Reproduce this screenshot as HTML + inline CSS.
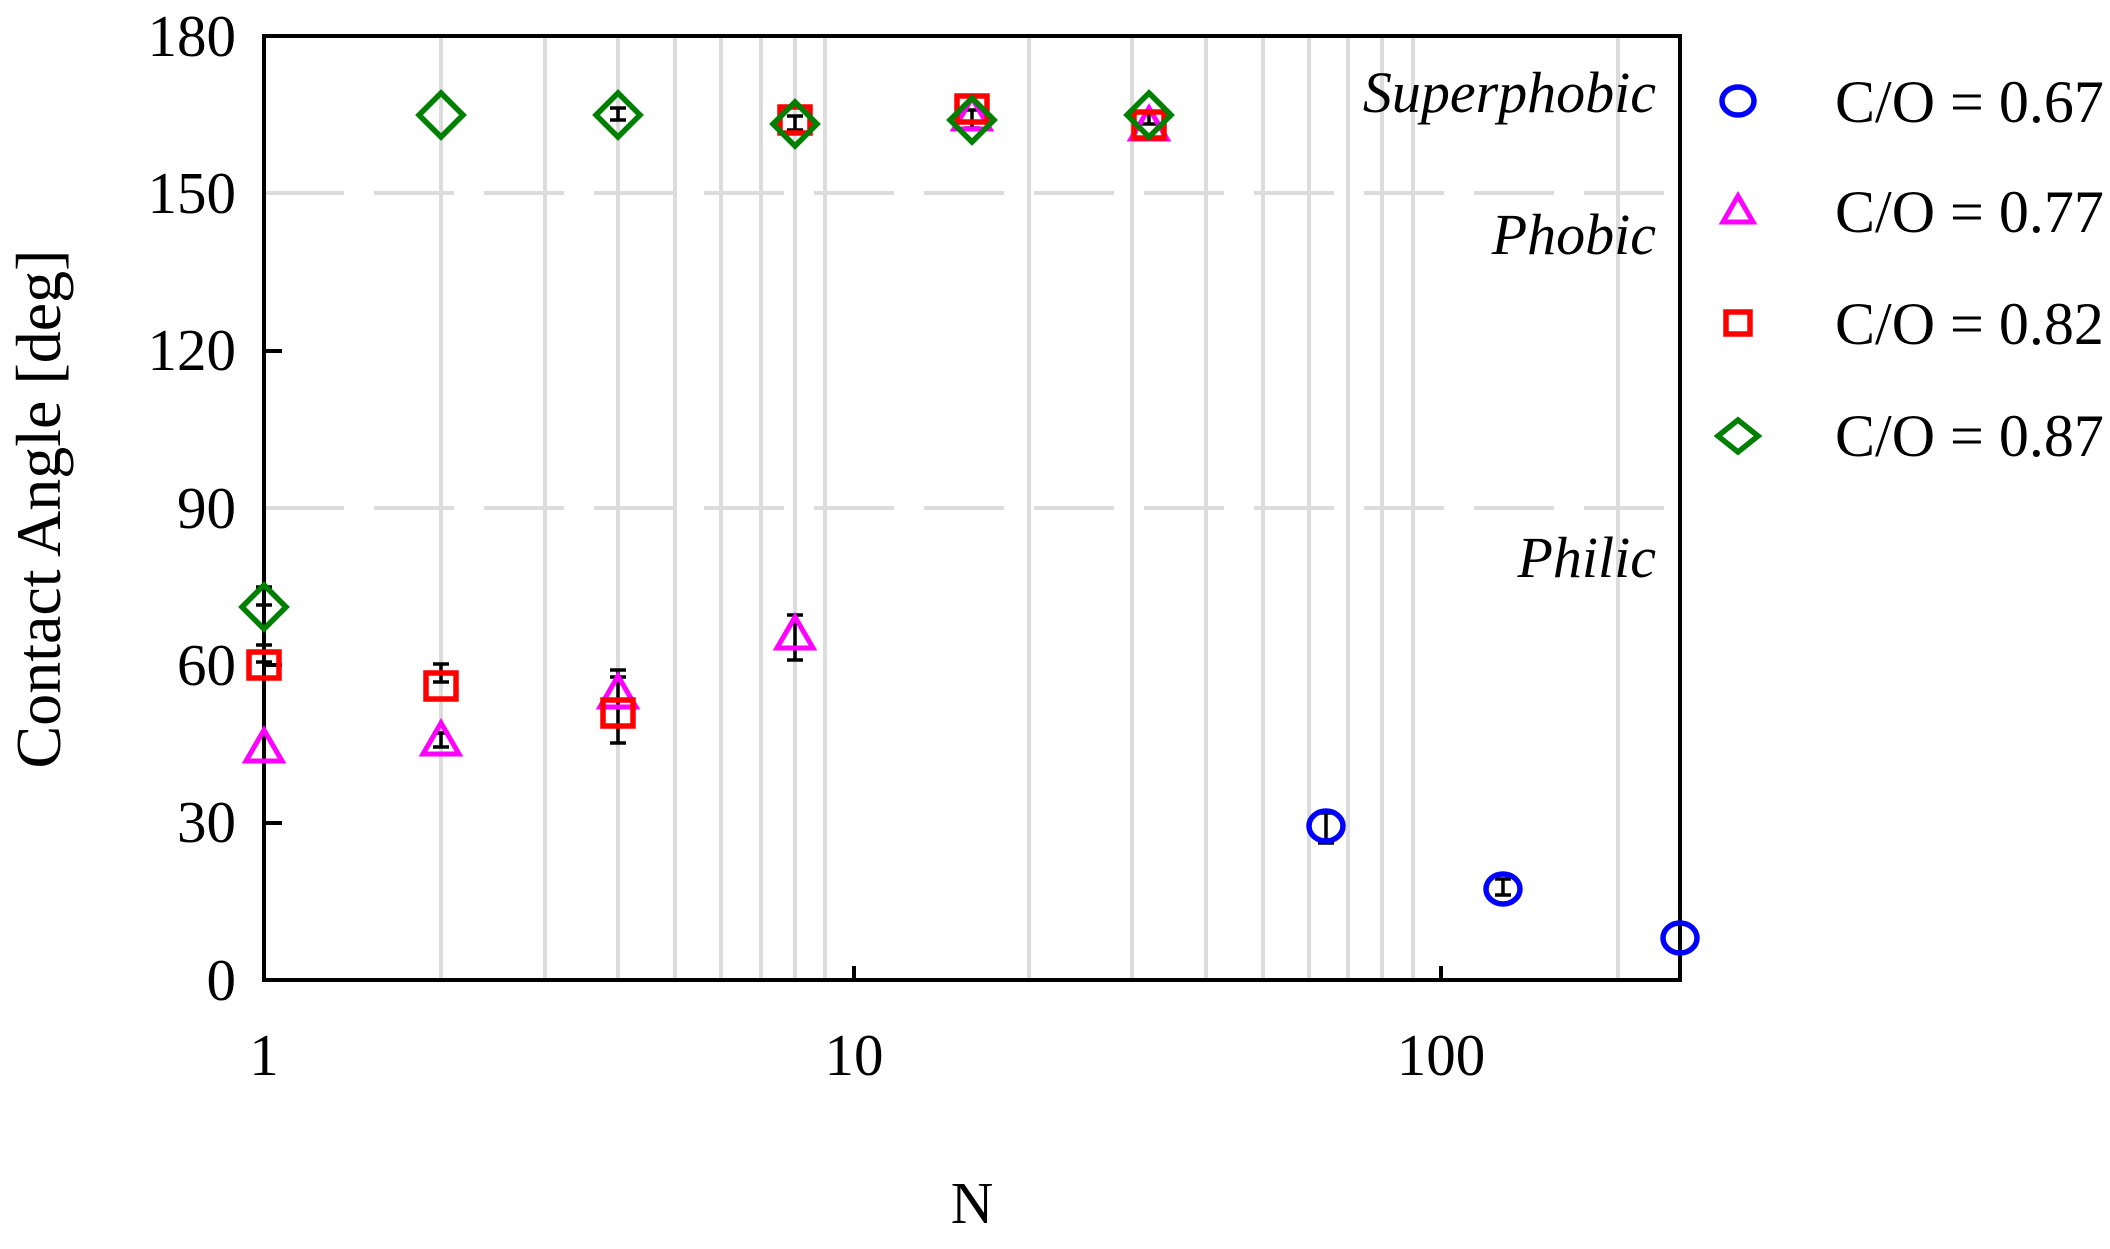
<!DOCTYPE html>
<html><head><style>html,body{margin:0;padding:0;background:#fff}</style></head>
<body>
<svg width="2110" height="1244" xmlns="http://www.w3.org/2000/svg" font-family="'Liberation Serif', serif">
<rect width="2110" height="1244" fill="#fff"/>
<g stroke="#dcdcdc" stroke-width="4">
<line x1="441" y1="36" x2="441" y2="980"/><line x1="545" y1="36" x2="545" y2="980"/><line x1="618" y1="36" x2="618" y2="980"/><line x1="675" y1="36" x2="675" y2="980"/><line x1="721" y1="36" x2="721" y2="980"/><line x1="761" y1="36" x2="761" y2="980"/><line x1="795" y1="36" x2="795" y2="980"/><line x1="825" y1="36" x2="825" y2="980"/>
<line x1="1029" y1="36" x2="1029" y2="980"/><line x1="1132" y1="36" x2="1132" y2="980"/><line x1="1206" y1="36" x2="1206" y2="980"/><line x1="1263" y1="36" x2="1263" y2="980"/><line x1="1309" y1="36" x2="1309" y2="980"/><line x1="1348" y1="36" x2="1348" y2="980"/><line x1="1382" y1="36" x2="1382" y2="980"/><line x1="1413" y1="36" x2="1413" y2="980"/>
<line x1="1618" y1="36" x2="1618" y2="980"/>
<line x1="264" y1="193" x2="1680" y2="193" stroke-dasharray="80,30"/>
<line x1="264" y1="508" x2="1680" y2="508" stroke-dasharray="80,30"/>
</g>
<g stroke="#000" stroke-width="4" fill="none">
<rect x="264" y="36" width="1416" height="944"/>
<line x1="264" y1="823" x2="282" y2="823"/><line x1="264" y1="665" x2="282" y2="665"/><line x1="264" y1="351" x2="282" y2="351"/>
<line x1="854" y1="980" x2="854" y2="966"/><line x1="1441" y1="980" x2="1441" y2="966"/>
</g>
<g font-size="59" text-anchor="end" fill="#000">
<text x="236" y="56">180</text><text x="236" y="213">150</text><text x="236" y="370">120</text><text x="236" y="528">90</text><text x="236" y="685">60</text><text x="236" y="842">30</text><text x="236" y="1000">0</text>
</g>
<g font-size="59" text-anchor="middle" fill="#000">
<text x="264" y="1075">1</text><text x="854" y="1075">10</text><text x="1441" y="1075">100</text>
<text x="972" y="1223">N</text>
<text font-size="64" transform="translate(60,509) rotate(-90)">Contact Angle [deg]</text>
</g>
<g font-size="58" font-style="italic" text-anchor="end" fill="#000">
<text x="1656" y="112">Superphobic</text><text x="1656" y="254">Phobic</text><text x="1656" y="577">Philic</text>
</g>
<g stroke="#000" stroke-width="3.5">
<path d="M256 587h16M256 605h16M264 587v18"/>
<path d="M256 645h16M256 662h16M264 645v17"/>
<path d="M433 664h16M433 682h16M441 664v18"/>
<path d="M433 733h16M433 747h16M441 733v14"/>
<path d="M610 670h16M610 743h16M610 677h16M618 670v73"/>
<path d="M787 615h16M787 660h16M795 615v45"/>
<path d="M610 108h16M610 120h16M618 108v12"/>
<path d="M787 116h16M787 130h16M795 116v14"/>
<path d="M964 110h16M964 128h16M972 110v18"/>
<path d="M1141 112h16M1141 124h16M1149 112v12"/>
<path d="M1318 813h16M1318 843h16M1326 813v30"/>
<path d="M1495 879h16M1495 895h16M1503 879v16"/>
</g>
<g stroke="#ff00ff" stroke-width="5" fill="none">
<path d="M264 730l-18 31h36z"/><path d="M441 723l-18 31h36z"/><path d="M618 676l-18 31h36z"/><path d="M795 617l-18 31h36z"/><path d="M972 98l-18 31h36z"/><path d="M1149 108l-18 31h36z"/>
<path d="M1738 196l-15 26h30z"/>
</g>
<g stroke="#ff0000" stroke-width="5.5" fill="none">
<rect x="249" y="652" width="30" height="26"/><rect x="426" y="673" width="30" height="26"/><rect x="603" y="700" width="30" height="26"/><rect x="780" y="107" width="30" height="26"/><rect x="957" y="96" width="30" height="26"/><rect x="1134" y="112" width="30" height="26"/>
<rect x="1726" y="312" width="24" height="22"/>
</g>
<g stroke="#008000" stroke-width="5.5" fill="none">
<path d="M264 585l22 22l-22 22l-22-22z"/><path d="M441 93l22 22l-22 22l-22-22z"/><path d="M618 93l22 22l-22 22l-22-22z"/><path d="M795 102l22 22l-22 22l-22-22z"/><path d="M972 98l22 22l-22 22l-22-22z"/><path d="M1149 93l22 22l-22 22l-22-22z"/>
<path d="M1738 420l20 16l-20 16l-20-16z"/>
</g>
<g stroke="#0000ff" stroke-width="5.5" fill="none">
<ellipse cx="1326" cy="826" rx="17" ry="15"/><ellipse cx="1503" cy="889" rx="17" ry="15"/><ellipse cx="1680" cy="938" rx="17" ry="15"/>
<ellipse cx="1738" cy="101" rx="16" ry="14"/>
</g>
<g font-size="60" fill="#000">
<text x="1835" y="122">C/O = 0.67</text><text x="1835" y="232">C/O = 0.77</text><text x="1835" y="344">C/O = 0.82</text><text x="1835" y="456">C/O = 0.87</text>
</g>
</svg>
</body></html>
